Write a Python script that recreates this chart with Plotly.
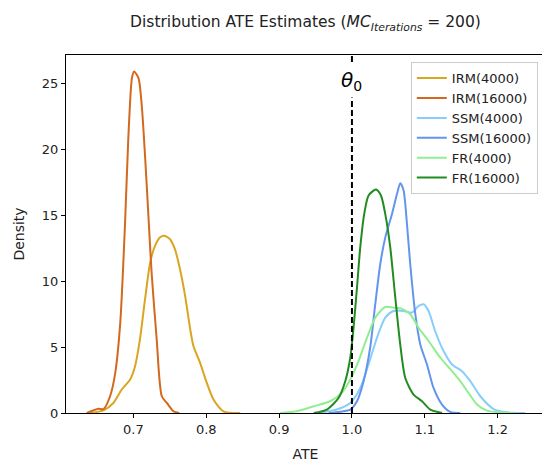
import plotly.graph_objects as go

# ---- data (ATE value, density) ----
irm4000_x = [0.6405, 0.659, 0.6725, 0.684, 0.6955, 0.7023, 0.709, 0.716, 0.723, 0.7298, 0.7367, 0.742,
             0.750, 0.757, 0.764, 0.771, 0.778, 0.7824, 0.7916, 0.8008, 0.81, 0.8236, 0.8466]
irm4000_y = [0.0, 0.2, 0.76, 1.78, 2.54, 3.55, 5.58, 8.63, 11.4, 12.69, 13.32, 13.45,
             13.2, 12.43, 10.9, 8.88, 6.35, 5.08, 3.8, 2.28, 1.02, 0.13, 0.0]

irm16000_x = [0.636, 0.652, 0.659, 0.668, 0.675, 0.682, 0.6886, 0.693, 0.698, 0.701, 0.707, 0.7115,
              0.716, 0.7206, 0.725, 0.732, 0.739, 0.746, 0.755, 0.763]
irm16000_y = [0.0, 0.33, 0.3, 1.27, 3.0, 6.85, 14.46, 20.8, 25.4, 25.9, 25.4, 23.3,
              19.5, 14.97, 10.65, 5.58, 1.27, 0.76, 0.13, 0.0]

ssm4000_x = [0.954, 0.979, 0.9977, 1.0114, 1.0228, 1.0343, 1.0457, 1.057, 1.0709, 1.082, 1.0915, 1.0984,
             1.1052, 1.1143, 1.1258, 1.1374, 1.151, 1.1625, 1.1762, 1.1945, 1.213, 1.238]
ssm4000_y = [0.0, 0.26, 0.76, 1.9, 3.68, 5.7, 7.23, 7.74, 7.74, 7.6, 8.12, 8.25,
             7.74, 6.2, 4.7, 3.68, 3.17, 2.41, 1.27, 0.3, 0.05, 0.0]

ssm16000_x = [0.9679, 0.984, 0.9977, 1.0069, 1.016, 1.025, 1.032, 1.0389, 1.0457, 1.055, 1.0618, 1.0663,
              1.0709, 1.0755, 1.08, 1.087, 1.0938, 1.103, 1.112, 1.1236, 1.135, 1.1487]
ssm16000_y = [0.0, 0.1, 0.26, 0.89, 2.41, 4.95, 8.25, 11.3, 13.3, 15.1, 16.6, 17.43,
              16.87, 14.34, 11.3, 7.49, 5.2, 3.68, 1.9, 0.64, 0.08, 0.0]

fr4000_x = [0.9015, 0.924, 0.9475, 0.970, 0.986, 0.9977, 1.009, 1.0206, 1.032, 1.0457, 1.057, 1.0687,
            1.080, 1.0915, 1.1052, 1.1213, 1.1374, 1.1487, 1.16, 1.1717, 1.1854, 1.222]
fr4000_y = [0.0, 0.13, 0.51, 0.89, 1.52, 2.54, 3.93, 5.7, 7.23, 8.04, 7.99, 7.9,
            7.49, 6.47, 5.46, 4.19, 3.17, 2.41, 1.52, 0.64, 0.18, 0.0]

fr16000_x = [0.9475, 0.9657, 0.9816, 0.9908, 0.9977, 1.0022, 1.0069, 1.0114, 1.0169, 1.0228, 1.033, 1.0398,
             1.0457, 1.0526, 1.0595, 1.0663, 1.0732, 1.0846, 1.0962, 1.1076, 1.1236]
fr16000_y = [0.0, 0.26, 1.14, 2.41, 4.19, 6.47, 9.5, 12.56, 15.1, 16.5, 16.95, 16.5,
             15.1, 12.56, 8.75, 5.2, 2.66, 1.4, 0.89, 0.26, 0.0]

series_names = ["IRM(4000)", "IRM(16000)", "SSM(4000)", "SSM(16000)", "FR(4000)", "FR(16000)"]
series_x = [irm4000_x, irm16000_x, ssm4000_x, ssm16000_x, fr4000_x, fr16000_x]
series_y = [irm4000_y, irm16000_y, ssm4000_y, ssm16000_y, fr4000_y, fr16000_y]
series_colors = ["#DAA520", "#D2691E", "#87CEFA", "#6495ED", "#90EE90", "#228B22"]

theta0 = 1.0
x_ticks = [0.7, 0.8, 0.9, 1.0, 1.1, 1.2]
y_ticks = [0, 5, 10, 15, 20, 25]

FONT = "DejaVu Sans"
W, H = 542, 459  # page body has an 8px margin

fig = go.Figure()
for name, xs, ys, col in zip(series_names, series_x, series_y, series_colors):
    fig.add_trace(go.Scatter(
        x=xs, y=ys, mode="lines", name=name,
        line=dict(color=col, width=2, shape="spline", smoothing=0.7),
    ))

# true value line
fig.add_shape(type="line", xref="x", yref="paper", x0=theta0, x1=theta0, y0=0, y1=1,
              line=dict(color="black", width=2, dash="6px,3px"))
fig.add_annotation(x=theta0, xref="x", y=0.927, yref="paper", yanchor="middle",
                   text="<i>θ</i><sub>0</sub>", showarrow=False,
                   font=dict(family=FONT, size=20, color="black"),
                   bgcolor="white", borderpad=3)

fig.update_layout(
    width=W, height=H,
    margin=dict(l=58, r=5, t=47, b=54, autoexpand=False),
    paper_bgcolor="white",
    plot_bgcolor="white",
    font=dict(family=FONT, size=12, color="#222"),
    title=dict(
        text="Distribution ATE Estimates (<i>MC</i><sub><i>Iterations</i></sub> = 200)",
        x=297.5 / W, xanchor="center", y=1 - 14 / H, yanchor="middle",
        font=dict(family=FONT, size=15.5, color="#222"),
    ),
    showlegend=True,
    legend=dict(
        x=0.985, xanchor="right", y=0.98, yanchor="top",
        bgcolor="rgba(255,255,255,0.8)", bordercolor="#cccccc", borderwidth=1,
        font=dict(family=FONT, size=13, color="#222"),
        tracegroupgap=0, itemwidth=30,
    ),
    xaxis=dict(
        range=[0.6075, 1.265], tickvals=x_ticks, ticktext=[f"{v:.1f}" for v in x_ticks],
        showgrid=False, zeroline=False, showline=True, linecolor="black", linewidth=1,
        mirror=True, ticks="outside", ticklen=4, tickcolor="black", automargin=False,
        title=dict(text="ATE", font=dict(family=FONT, size=14, color="#222"), standoff=13),
        tickfont=dict(family=FONT, size=13, color="#222"),
    ),
    yaxis=dict(
        range=[0, 27.15], tickvals=y_ticks,
        showgrid=False, zeroline=False, showline=True, linecolor="black", linewidth=1,
        mirror=True, ticks="outside", ticklen=4, tickcolor="black", automargin=False,
        title=dict(text="Density", font=dict(family=FONT, size=14, color="#222"), standoff=13),
        tickfont=dict(family=FONT, size=13, color="#222"),
    ),
)

fig.write_html("out.html")
